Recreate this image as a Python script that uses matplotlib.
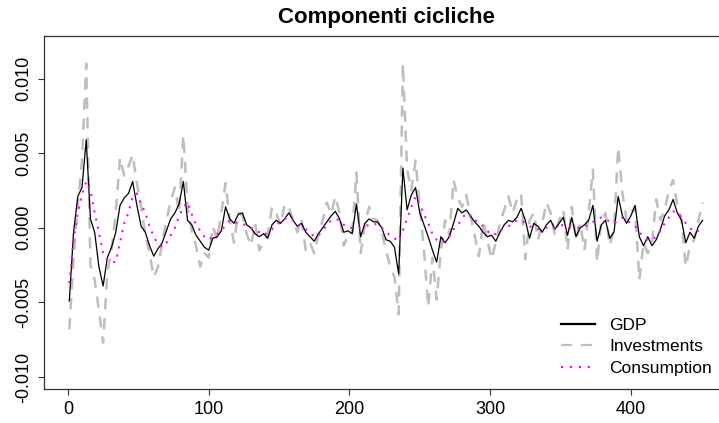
import numpy as np
import matplotlib
matplotlib.use("Agg")
import matplotlib.pyplot as plt
from matplotlib.lines import Line2D

plt.rcParams['font.family'] = ['Liberation Sans', 'DejaVu Sans']

t = np.arange(1, 452, 3)

# cyclical components, in units of 1e-3
gdp = [
    -4.9, -0.3, 2.1, 2.7, 5.9, 0.6, -0.3, -2.6, -3.9, -2.0,
    -1.3, -0.3, 1.5, 2.0, 2.3, 3.1, 1.5, 0.1, -0.3, -1.2,
    -1.9, -1.4, -1.0, -0.2, 0.6, 1.0, 1.6, 3.1, 0.5, 0.2,
    -0.5, -0.9, -1.3, -1.5, -0.7, -0.6, -0.2, 1.4, 0.6, 0.3,
    0.9, 1.0, 0.2, 0.0, -0.4, -0.6, -0.4, -0.7, 0.2, 0.5,
    0.3, 0.6, 1.0, 0.5, 0.1, 0.3, -0.3, -0.6, -0.9, -0.4,
    0.0, 0.4, 0.8, 1.1, 0.6, -0.3, -0.2, -0.4, 1.6, -0.6,
    0.3, 0.6, 0.4, 0.4, 0.0, -0.8, -0.9, -1.3, -3.1, 4.0,
    1.2, 2.2, 2.7, 1.0, 0.2, -0.6, -1.5, -2.3, -0.6, -1.0,
    -0.6, 0.3, 1.3, 1.0, 1.2, 0.8, 0.4, 0.1, -0.3, -0.6,
    -0.5, -0.9, -0.3, 0.2, 0.5, 0.4, 0.7, 1.3, 0.5, -0.7,
    0.3, 0.1, -0.3, 0.2, 0.5, -0.1, 0.3, 0.7, -0.5, 0.7,
    -0.6, 0.0, 0.2, 0.5, 1.5, -0.9, 0.2, 0.5, -0.7, -0.3,
    2.1, 0.8, 0.3, 0.8, 1.5, -0.6, -1.2, -0.6, -1.2, -0.8,
    -0.1, 0.8, 1.2, 1.9, 1.0, 0.5, -1.0, -0.3, -0.7, 0.1,
    0.5,
]

investments = [
    -6.8, -2.0, 1.5, 4.5, 11.0, -2.5, -3.5, -5.5, -7.7, -3.0,
    -1.5, 1.0, 4.7, 3.5, 4.1, 4.9, 3.0, 1.4, -0.5, -1.7,
    -3.3, -2.6, -1.0, 0.5, 1.8, 2.7, 1.0, 6.2, 1.4, -0.2,
    -1.2, -2.6, -1.7, -2.0, 0.1, -0.8, 1.0, 3.0, 0.5, -1.0,
    1.0, 0.8, -0.4, -1.2, 0.3, -1.5, -1.0, -0.4, 1.4, 1.0,
    0.2, 1.6, 1.4, 0.5, -0.3, 0.6, -1.5, -1.0, -1.7, -0.4,
    0.5, 1.7, 0.9, 2.1, 1.0, -1.2, -0.5, -0.3, 3.7, -1.7,
    0.2, 1.4, 0.6, 0.5, -0.3, -1.5, -2.6, -3.3, -5.8, 11.0,
    3.9, 2.5, 4.5, 1.4, -1.5, -5.3, -2.0, -4.8, -1.5, 0.5,
    -0.5, 3.2, 2.0, 1.4, 2.2, 0.8, -0.5, -1.9, 0.4, -0.8,
    -2.1, -1.0, 0.3, 1.2, 2.1, 1.0, 1.9, 2.3, -2.1, 0.5,
    1.0, -0.8, 0.3, 1.7, 1.0, -0.5, 0.5, 1.2, -1.5, 1.4,
    -0.8, 0.3, -1.5, 1.0, 3.9, -2.3, 0.5, 1.0, -1.2, 0.0,
    5.4, 2.3, 0.5, 1.0, 1.4, -3.5, -1.0, -1.7, -1.0, 1.9,
    0.5, 1.2, 2.5, 3.2, 1.5, 0.5, -2.6, -1.2, -0.8, 0.5,
    1.7,
]

consumption = [
    -3.7, -0.8, 1.0, 2.2, 3.1, 2.5, 1.0, -0.3, -1.7, -2.2,
    -2.3, -2.3, -1.0, 0.3, 1.0, 2.1, 2.3, 1.6, 1.0, 0.1,
    -0.6, -1.1, -1.3, -1.0, -0.5, 0.0, 0.8, 1.4, 1.7, 0.9,
    0.2, -0.2, -0.6, -0.8, -0.6, -0.4, -0.2, 0.2, 0.5, 0.4,
    0.3, 0.3, 0.1, 0.0, -0.1, -0.3, -0.5, -0.3, -0.1, 0.2,
    0.4, 0.6, 0.7, 0.5, 0.3, 0.1, -0.1, -0.3, -0.6, -0.5,
    -0.2, 0.2, 0.5, 0.6, 0.5, 0.2, 0.0, 0.0, 0.0, 0.0,
    0.1, 0.2, 0.3, 0.2, 0.0, -0.3, -0.5, -0.7, -0.9, -0.2,
    0.6, 1.4, 2.1, 1.6, 0.9, 0.3, -0.4, -0.8, -1.0, -0.9,
    -0.6, -0.1, 0.2, 0.6, 1.0, 0.8, 0.5, 0.4, 0.1, -0.2,
    -0.5, -0.4, -0.2, 0.0, 0.1, 0.3, 0.5, 0.5, 0.3, 0.1,
    0.0, -0.1, 0.0, 0.0, 0.1, 0.0, 0.1, 0.2, 0.1, 0.1,
    0.0, 0.0, 0.1, 0.2, 0.4, 0.5, 0.7, 0.6, 0.4, 0.3,
    0.5, 0.7, 0.5, 0.3, 0.1, -0.3, -0.6, -0.8, -0.8, -0.6,
    -0.2, 0.3, 0.7, 1.1, 1.0, 0.7, 0.3, 0.0, -0.3, -0.2,
    0.0,
]

scale = 1e-3
gdp = np.array(gdp) * scale
investments = np.array(investments) * scale
consumption = np.array(consumption) * scale

fig = plt.figure(figsize=(7.19, 4.23), dpi=100)
# plot region runs past the right edge, like the cropped original
ax = fig.add_axes([0.0612, 0.0804, 0.9513, 0.8345])

ax.plot(t, investments, color='#bebebe', lw=1.8, dashes=(4.5, 3.5), zorder=1)
ax.plot(t, gdp, color='black', lw=0.9, zorder=2)
ax.plot(t, consumption, color='#ff00ff', lw=1.5, dashes=(1, 3), zorder=3)

ax.set_xlim(-17, 469)
ax.set_ylim(-0.0108, 0.01285)
ax.set_xticks([0, 100, 200, 300, 400])
ax.set_yticks([-0.010, -0.005, 0.0, 0.005, 0.010])
ax.set_yticklabels(['-0.010', '-0.005', '0.000', '0.005', '0.010'],
                   rotation=90, va='center')
ax.tick_params(labelsize=13, length=4.5, width=0.8, color='#333333', pad=4)

for s in ax.spines.values():
    s.set_color('#333333')
    s.set_linewidth(0.9)

ax.set_title('Componenti cicliche', fontsize=16, fontweight='bold', pad=9)

handles = [
    Line2D([], [], color='black', lw=1.6),
    Line2D([], [], color='#bebebe', lw=1.6, dashes=(5, 4)),
    Line2D([], [], color='#ff00ff', lw=1.6, dashes=(1, 3)),
]
fig.legend(handles, ['GDP', 'Investments', 'Consumption'],
           loc='upper left', bbox_to_anchor=(0.770, 0.265),
           frameon=False, fontsize=12.5, handlelength=2.0,
           handletextpad=0.8, labelspacing=0.36, borderaxespad=0)

fig.savefig('out.png', dpi=100)
